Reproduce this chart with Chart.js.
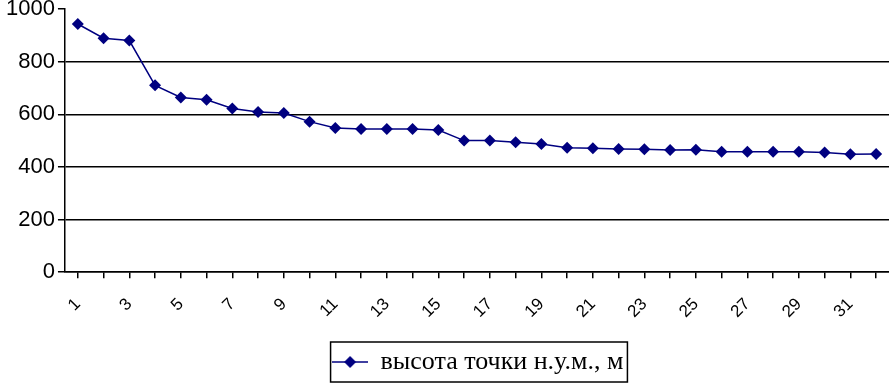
<!DOCTYPE html>
<html>
<head>
<meta charset="utf-8">
<script src="https://cdn.jsdelivr.net/npm/chart.js@4/dist/chart.umd.min.js"></script>
<style>
  html, body { margin: 0; padding: 0; background: #fff; }
  #wrap { width: 889px; height: 385px; position: relative; }
</style>
</head>
<body>
<div id="wrap"><canvas id="chart"></canvas></div>
<script>
// ==========================
// DATA
// ==========================

const labels = [];
for (let i = 1; i <= 32; i++) labels.push(String(i));

const heights = [943, 889, 880, 710, 664, 655, 622, 609, 605, 572,
                 548, 544, 544, 544, 540, 500, 500, 494, 487, 473,
                 471, 468, 467, 464, 465, 458, 458, 458, 458, 455,
                 448, 449];

const seriesName = "высота точки н.у.м., м";
const yTicks = [0, 200, 400, 600, 800, 1000];

const navy = "#000080";
const legendFont = { family: "Liberation Serif", size: 26 };

// ==========================
// LEGEND MARKER (line + diamond)
// ==========================

const marker = document.createElement("canvas");
marker.width = 36;
marker.height = 14;
(function () {
  const c = marker.getContext("2d");
  c.strokeStyle = navy;
  c.lineWidth = 1.5;
  c.beginPath();
  c.moveTo(0, 7);
  c.lineTo(36, 7);
  c.stroke();
  c.fillStyle = navy;
  c.beginPath();
  c.moveTo(18, 1);
  c.lineTo(24, 7);
  c.lineTo(18, 13);
  c.lineTo(12, 7);
  c.closePath();
  c.fill();
})();

// move the legend under the plot centre and box it
const SHIFT = 32;
const legendBox = {
  id: "legendBox",
  afterLayout(chart) {
    const l = chart.legend;
    if (!l) return;
    l.left += SHIFT;
    l.right += SHIFT;
  },
  afterDraw(chart) {
    const l = chart.legend;
    if (!l) return;
    const c = chart.ctx;
    c.save();
    c.font = legendFont.size + "px " + legendFont.family;
    const itemW = 35 + legendFont.size / 2 + c.measureText(seriesName).width;
    const cx = (l.left + l.right) / 2;
    const cy = (l.top + l.bottom) / 2;
    c.strokeStyle = "#000";
    c.lineWidth = 1.5;
    c.strokeRect(cx - itemW / 2 - 2, cy - 20, itemW + 6, 40);
    c.restore();
  }
};

// ==========================
// CHART
// ==========================

new Chart(document.getElementById("chart"), {
  type: "line",
  data: {
    labels: labels,
    datasets: [{
      label: seriesName,
      data: heights,
      borderColor: navy,
      backgroundColor: navy,
      borderWidth: 1.5,
      pointStyle: "rectRot",
      pointRadius: 6,
      pointBorderWidth: 0,
      tension: 0
    }]
  },
  options: {
    responsive: true,
    maintainAspectRatio: false,
    animation: false,
    layout: { autoPadding: false, padding: { top: 9, right: 0, left: 3, bottom: 0 } },
    plugins: {
      tooltip: { enabled: false },
      legend: {
        position: "bottom",
        labels: {
          usePointStyle: true,
          pointStyleWidth: 35,
          color: "#000",
          padding: 10,
          font: legendFont,
          generateLabels: () => [{
            text: seriesName,
            pointStyle: marker,
            fillStyle: navy,
            strokeStyle: navy,
            lineWidth: 0,
            datasetIndex: 0
          }]
        }
      }
    },
    scales: {
      x: {
        offset: true,
        afterFit: (s) => { s.height += 1; s.paddingRight = 0; },
        border: { color: "#000", width: 1.5 },
        grid: { drawOnChartArea: false, drawTicks: true, tickLength: 6, color: "#000", lineWidth: 1.5 },
        ticks: {
          autoSkip: false,
          maxRotation: 45,
          minRotation: 45,
          padding: 16,
          color: "#000",
          font: { family: "Liberation Sans", size: 17 },
          callback: (v, i) => (i % 2 === 0 ? labels[i] : "")
        }
      },
      y: {
        min: 0,
        max: 1000,
        afterBuildTicks: (s) => { s.ticks = yTicks.map(v => ({ value: v })); },
        afterFit: (s) => { s.paddingTop = 0; },
        border: { color: "#000", width: 1.5 },
        grid: {
          color: (ctx) => (ctx.tick && ctx.tick.value === 1000 ? "rgba(0,0,0,0)" : "#000"),
          lineWidth: 1.5,
          tickLength: 7,
          tickColor: "#000"
        },
        ticks: {
          color: "#000",
          padding: 3,
          font: { family: "Liberation Sans", size: 22 },
          callback: (v) => String(v)
        }
      }
    }
  },
  plugins: [legendBox]
});
</script>
</body>
</html>
